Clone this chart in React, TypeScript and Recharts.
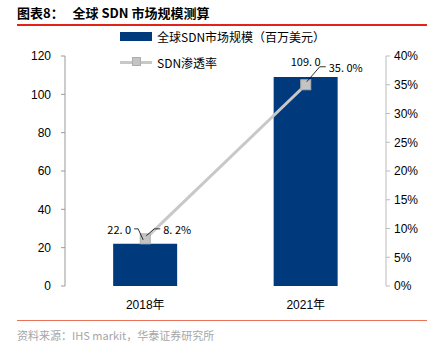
import React from 'react';
import {
  ComposedChart,
  Bar,
  Line,
  XAxis,
  YAxis,
  LabelList,
} from 'recharts';

// --- 数据 ---
const years = ['2018年', '2021年'];
const marketSize = [22.0, 109.0]; // 百万美元
const penetration = [0.082, 0.35]; // SDN渗透率
const leftTicks = [0, 20, 40, 60, 80, 100, 120];
const rightTicks = [0, 0.05, 0.1, 0.15, 0.2, 0.25, 0.3, 0.35, 0.4];

const data = years.map((name, i) => ({
  name,
  idx: i + 0.5,
  size: marketSize[i],
  rate: penetration[i],
}));

const BAR_COLOR = '#003a7d';
const LINE_COLOR = '#c8c8c8';
const CJK = '"Noto Sans CJK SC", sans-serif';
const SANS = '"Liberation Sans", Arial, "Noto Sans CJK SC", sans-serif';

const SquareDot = ({ cx, cy }: any) => (
  <rect x={cx - 5} y={cy - 5} width={10} height={10} fill="#c4c4c4" stroke="#adadad" strokeWidth={1} />
);

// 柱子标签：第一个带引导线，放在左上
const BarLabel = ({ x, y, width, value, index }: any) => {
  const cx = x + width / 2;
  const txt = value.toFixed(1).replace('.', '. ');
  if (index === 0) {
    return (
      <g>
        <text x={cx - 14} y={y - 15} textAnchor="end" dominantBaseline="central" fontSize={11} fontFamily={CJK} fill="#000">
          {txt}
        </text>
        <polyline points={`${cx - 11},${y - 15} ${cx - 7},${y - 15} ${cx - 2},${y - 4}`} fill="none" stroke="#000" strokeWidth={0.8} />
      </g>
    );
  }
  return (
    <text x={cx} y={y - 16} textAnchor="middle" dominantBaseline="central" fontSize={11} fontFamily={CJK} fill="#000">
      {txt}
    </text>
  );
};

// 折线标签：右上，带引导线
const LineLabel = ({ x, y, value, index }: any) => {
  const txt = (value * 100).toFixed(1).replace('.', '. ') + '%';
  const dx = index === 0 ? 18 : 23;
  const dy = index === 0 ? -10 : -18;
  return (
    <g>
      <polyline points={`${x + 1},${y - 3} ${x + dx - 9},${y + dy} ${x + dx - 3},${y + dy}`} fill="none" stroke="#000" strokeWidth={0.8} />
      <text x={x + dx} y={y + dy} textAnchor="start" dominantBaseline="central" fontSize={11} fontFamily={CJK} fill="#000">
        {txt}
      </text>
    </g>
  );
};

const ChartLegend = () => (
  <div style={{ position: 'absolute', left: 120, top: 27, fontFamily: CJK, fontSize: 12, color: '#000' }}>
    <div style={{ display: 'flex', alignItems: 'center', height: 18 }}>
      <span style={{ display: 'inline-block', width: 32, height: 9, background: BAR_COLOR, marginRight: 5 }} />
      全球SDN市场规模（百万美元）
    </div>
    <div style={{ display: 'flex', alignItems: 'center', height: 18, marginTop: 8 }}>
      <span style={{ position: 'relative', display: 'inline-block', width: 32, height: 10, marginRight: 5 }}>
        <span style={{ position: 'absolute', left: 0, top: 4, width: 32, height: 3, background: LINE_COLOR }} />
        <span style={{ position: 'absolute', left: 12, top: 0, width: 9, height: 9, background: '#c4c4c4', border: '1px solid #adadad', boxSizing: 'border-box' }} />
      </span>
      SDN渗透率
    </div>
  </div>
);

export default function App() {
  return (
    <div style={{ position: 'fixed', left: 0, top: 0, width: 435, height: 346, background: '#fff', overflow: 'hidden' }}>
      {/* 标题 */}
      <div style={{ position: 'absolute', left: 17, top: 3, fontFamily: CJK, fontSize: 13, fontWeight: 'bold', color: '#000', whiteSpace: 'pre' }}>
        {'图表8：   全球 SDN 市场规模测算'}
      </div>
      <div style={{ position: 'absolute', left: 17, top: 24, width: 410, height: 2, background: '#e2231a' }} />

      <ComposedChart
        width={435}
        height={346}
        data={data}
        margin={{ top: 56, right: 0, left: 0, bottom: 35 }}
        barCategoryGap="30%"
      >
        <XAxis
          xAxisId="edge"
          dataKey="idx"
          type="number"
          domain={[0, 2]}
          ticks={[0, 1, 2]}
          height={0}
          axisLine={{ stroke: '#000', strokeWidth: 1 }}
          tickLine={{ stroke: '#000' }}
          tickSize={4}
          tickFormatter={() => ''}
        />
        <XAxis
          dataKey="name"
          axisLine={false}
          tickLine={false}
          height={25}
          tick={{ fontSize: 12, fontFamily: SANS, fill: '#000' }}
          tickMargin={8}
        />
        <YAxis
          yAxisId="left"
          domain={[0, 120]}
          ticks={leftTicks}
          width={65}
          axisLine={{ stroke: '#999' }}
          tickLine={{ stroke: '#999' }}
          tickSize={4}
          tickMargin={10}
          tick={{ fontSize: 12, fontFamily: SANS, fill: '#000' }}
        />
        <YAxis
          yAxisId="right"
          orientation="right"
          domain={[0, 0.4]}
          ticks={rightTicks}
          width={49}
          axisLine={{ stroke: '#bbb' }}
          tickLine={{ stroke: '#bbb' }}
          tickSize={4}
          tickMargin={4}
          tickFormatter={(v: number) => `${Math.round(v * 100)}%`}
          tick={{ fontSize: 12, fontFamily: SANS, fill: '#000' }}
        />
        <Bar dataKey="size" yAxisId="left" fill={BAR_COLOR} isAnimationActive={false}>
          <LabelList dataKey="size" content={<BarLabel />} />
        </Bar>
        <Line
          dataKey="rate"
          yAxisId="right"
          stroke={LINE_COLOR}
          strokeWidth={3}
          dot={<SquareDot />}
          activeDot={false}
          isAnimationActive={false}
        >
          <LabelList dataKey="rate" content={<LineLabel />} />
        </Line>
      </ComposedChart>

      <ChartLegend />

      {/* 资料来源 */}
      <div style={{ position: 'absolute', left: 17, top: 320, width: 410, height: 1, background: '#e8735a' }} />
      <div style={{ position: 'absolute', left: 17, top: 327, fontFamily: CJK, fontSize: 11, color: '#a6a6a6' }}>
        资料来源：IHS markit，华泰证券研究所
      </div>
    </div>
  );
}
